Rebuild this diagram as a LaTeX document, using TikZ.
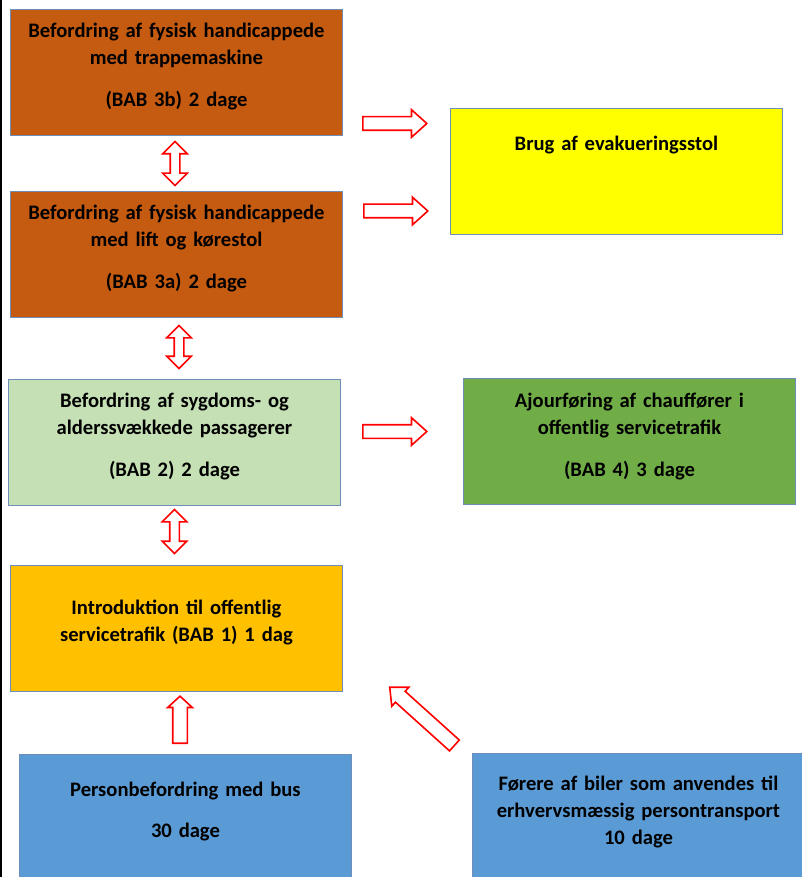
\documentclass[tikz,border=0pt]{standalone}
\usepackage{fontspec}
\setmainfont{Carlito}
\usetikzlibrary{shapes.arrows,positioning,calc}
\definecolor{brun}{HTML}{C55A11}
\definecolor{lysgroen}{HTML}{C5E0B4}
\definecolor{groen}{HTML}{70AD47}
\definecolor{guld}{HTML}{FFC000}
\definecolor{blaa}{HTML}{5B9BD5}
\definecolor{gul}{HTML}{FFFF00}
\definecolor{kant}{HTML}{6D8EB8}
\tikzset{kasse/.style={draw=kant, line width=0.9pt, inner xsep=4pt, inner ysep=0pt,
		text width=324pt, align=center, anchor=north west,
		font=\fontsize{20.6}{27}\selectfont\bfseries,
		text height=#1, text depth=126pt-#1}}
\tikzset{pil/.style={single arrow, draw=red, fill=white, line width=1.6pt, inner xsep=0pt,
		inner ysep=6pt, single arrow head extend=7pt, single arrow tip angle=84, anchor=tail}}
\tikzset{dobbeltpil/.style={double arrow, draw=red, fill=white, line width=1.6pt, inner xsep=0pt,
		inner ysep=4pt, double arrow head extend=7.5pt, double arrow tip angle=90}}
\begin{document}
\begin{tikzpicture}[x=1pt, y=-1pt]
				\useasboundingbox (0,0) rectangle (802,877);
				\draw[line width=1.5pt] (0.75,0) -- (0.75,877);
				
				% kurser i venstre kolonne
				\node[kasse=28pt, fill=brun] (bab3b) at (10,9)
					{Befordring af fysisk handicappede\\ med trappemaskine\\[15pt] (BAB 3b) 2 dage};
				\node[kasse=28pt, fill=brun] (bab3a) at (10,191)
					{Befordring af fysisk handicappede\\ med lift og kørestol\\[15pt] (BAB 3a) 2 dage};
				\node[kasse=28pt, fill=lysgroen] (bab2) at (8,379)
					{Befordring af sygdoms- og\\ alderssvækkede passagerer\\[15pt] (BAB 2) 2 dage};
				\node[kasse=49pt, fill=guld] (bab1) at (10,565)
					{Introduktion til offentlig\\ servicetrafik (BAB 1) 1 dag};
				\node[kasse=42pt, fill=blaa] (bus) at (19,754)
					{Personbefordring med bus\\[14pt] 30 dage};
				
				% kurser i hoejre kolonne
				\node[kasse=42pt, fill=gul] (evak) at (450,108) {Brug af evakueringsstol};
				\node[kasse=29pt, fill=groen] (bab4) at (463,378)
					{Ajourføring af chauffører i\\ offentlig servicetrafik\\[15pt] (BAB 4) 3 dage};
				\node[kasse=37pt, fill=blaa] (taxi) at (472,753)
					{Førere af biler som anvendes til\\ erhvervsmæssig persontransport\\ 10 dage};
				
				% pile
				\node[dobbeltpil, minimum height=44pt, rotate=90] (p3b3a) at (175,163.5) {};
				\node[dobbeltpil, minimum height=43pt, rotate=90] (p3a2) at (179,347) {};
				\node[dobbeltpil, minimum height=44pt, rotate=90] (p21) at (174.5,531.5) {};
				\node[pil, minimum height=64pt] (p3bevak) at (362,123.5) {};
				\node[pil, minimum height=64pt] (p3aevak) at (363,211) {};
				\node[pil, minimum height=64pt] (p2bab4) at (362,431.5) {};
				\node[pil, minimum height=47pt, inner ysep=6.5pt, single arrow head extend=5pt,
					single arrow tip angle=95, rotate=90] (pbus) at (180,744) {};
				\node[pil, minimum height=87pt, inner ysep=6.5pt, single arrow head extend=5.5pt,
					rotate=138] (ptaxi) at (455,746) {};
				
\end{tikzpicture}
\end{document}
